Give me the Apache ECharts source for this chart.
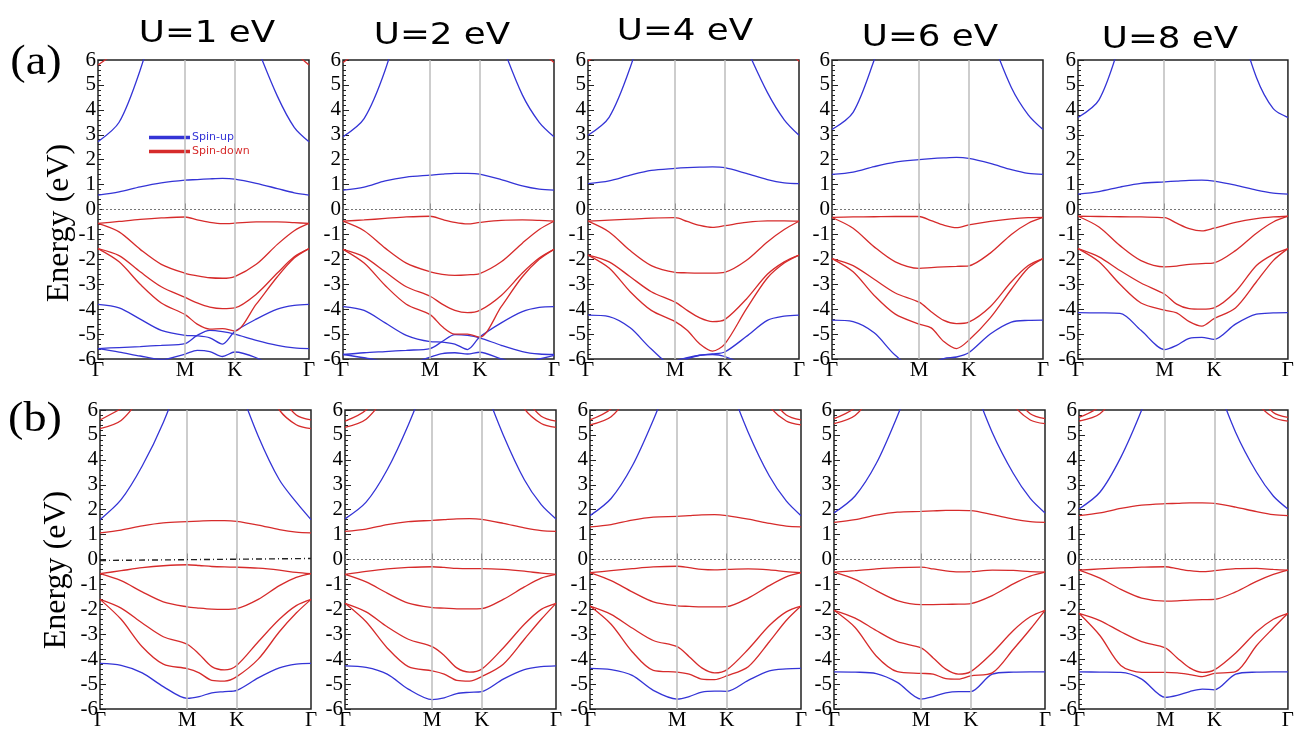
<!DOCTYPE html>
<html>
<head>
<meta charset="utf-8">
<script src="https://cdn.jsdelivr.net/npm/echarts@6/dist/echarts.min.js"></script>
<style>
  html, body { margin: 0; padding: 0; background: #fff; }
  #main { width: 1297px; height: 731px; }
</style>
</head>
<body>
<div id="main"></div>
<script>
// k-path positions (fraction of the Γ-M-K-Γ path) where band energies were read
const kpath = [0, 0.1, 0.2, 0.3, 0.413, 0.47, 0.53, 0.59, 0.648, 0.75, 0.85, 0.93, 1];
const kTicks = [0, 0.413, 0.648, 1];
const kNames = ['Γ', 'M', 'K', 'Γ'];
const uTitles = ['U=1 eV', 'U=2 eV', 'U=4 eV', 'U=6 eV', 'U=8 eV'];
const _ = null; // band leaves the -6..6 eV window

// ---- row (a) ----
const a1Up = [
  [2.72, 3.5, 5.6, 8.5, _, _, _, _, _, 6.6, 4.55, 3.3, 2.72],
  [0.58, 0.71, 0.91, 1.07, 1.18, 1.2, 1.23, 1.25, 1.22, 1.05, 0.84, 0.67, 0.58],
  [-3.81, -3.95, -4.4, -4.85, -5.05, -5.07, -5.15, -5.4, -4.9, -4.4, -4.0, -3.85, -3.81],
  [-5.58, -5.54, -5.5, -5.45, -5.38, -5.05, -4.85, -4.9, -5.0, -5.25, -5.45, -5.55, -5.58],
  [-5.58, -5.72, -5.88, -6.02, -5.8, -5.65, -5.7, -5.9, -5.72, -5.95, -6.4, _, _]
];
const a1Dn = [
  [5.8, 6.4, _, _, _, _, _, _, _, _, _, 6.3, 5.8],
  [-0.56, -0.48, -0.4, -0.34, -0.3, -0.42, -0.52, -0.57, -0.55, -0.5, -0.5, -0.53, -0.56],
  [-0.56, -0.9, -1.6, -2.2, -2.56, -2.66, -2.74, -2.76, -2.69, -2.2, -1.4, -0.85, -0.56],
  [-1.57, -1.85, -2.5, -3.1, -3.53, -3.75, -3.92, -3.98, -3.95, -3.4, -2.55, -1.9, -1.57],
  [-1.57, -2.1, -3.0, -3.75, -4.22, -4.6, -4.8, -4.78, -4.88, -3.8, -2.7, -1.95, -1.57]
];
const a2Up = [
  [2.92, 3.65, 5.6, 8.5, _, _, _, _, _, 6.7, 4.6, 3.5, 2.92],
  [0.78, 0.9, 1.15, 1.3, 1.38, 1.42, 1.45, 1.45, 1.42, 1.2, 0.95, 0.82, 0.78],
  [-3.9, -4.05, -4.55, -5.05, -5.3, -5.32, -5.4, -5.62, -5.12, -4.55, -4.1, -3.93, -3.9],
  [-5.82, -5.75, -5.7, -5.65, -5.58, -5.3, -5.02, -5.05, -5.15, -5.45, -5.7, -5.8, -5.82],
  [-5.82, -5.95, -6.1, -6.2, -5.92, -5.78, -5.75, -5.8, -5.73, -6.0, -6.2, -6.0, -5.85]
];
const a2Dn = [
  [5.9, 6.5, _, _, _, _, _, _, _, _, _, 6.4, 5.9],
  [-0.47, -0.42, -0.36, -0.3, -0.27, -0.4, -0.52, -0.58, -0.52, -0.44, -0.42, -0.44, -0.47],
  [-0.47, -0.85, -1.55, -2.15, -2.5, -2.6, -2.64, -2.62, -2.57, -2.1, -1.35, -0.8, -0.47],
  [-1.6, -1.9, -2.5, -3.1, -3.48, -3.8, -4.05, -4.14, -4.05, -3.45, -2.55, -1.95, -1.6],
  [-1.6, -2.15, -3.05, -3.8, -4.22, -4.7, -5.0, -5.0, -5.12, -3.9, -2.7, -2.0, -1.6]
];
const a3Up = [
  [2.98, 3.7, 5.7, 8.5, _, _, _, _, _, 6.5, 4.7, 3.6, 2.98],
  [1.04, 1.15, 1.38, 1.57, 1.65, 1.68, 1.7, 1.71, 1.68, 1.45, 1.2, 1.07, 1.04],
  [-4.24, -4.3, -4.75, -5.6, -6.3, -6.0, -5.85, -5.8, -5.72, -5.1, -4.45, -4.28, -4.24],
  [_, _, _, -7, -6.1, -5.95, -5.85, -5.82, -5.9, -6.3, -7, _, _]
];
const a3Dn = [
  [5.95, 6.6, _, _, _, _, _, _, _, _, _, 6.5, 5.95],
  [-0.47, -0.43, -0.39, -0.35, -0.33, -0.48, -0.64, -0.72, -0.65, -0.52, -0.46, -0.46, -0.47],
  [-0.47, -0.9, -1.65, -2.25, -2.52, -2.54, -2.55, -2.55, -2.52, -2.05, -1.3, -0.8, -0.47],
  [-1.83, -2.1, -2.7, -3.3, -3.72, -4.05, -4.35, -4.5, -4.42, -3.6, -2.6, -2.1, -1.83],
  [-1.83, -2.35, -3.3, -4.05, -4.5, -4.85, -5.4, -5.68, -5.4, -4.0, -2.75, -2.15, -1.83]
];
const a4Up = [
  [3.21, 3.9, 6.0, 8.5, _, _, _, _, _, 7.0, 4.9, 3.8, 3.21],
  [1.41, 1.5, 1.72, 1.9, 2.0, 2.04, 2.07, 2.09, 2.05, 1.85, 1.6, 1.45, 1.41],
  [-4.44, -4.5, -4.95, -5.85, -6.5, -6.2, -5.98, -5.92, -5.75, -5.0, -4.52, -4.45, -4.44]
];
const a4Dn = [
  [-0.32, -0.3, -0.29, -0.28, -0.28, -0.45, -0.63, -0.73, -0.62, -0.48, -0.38, -0.33, -0.32],
  [-0.32, -0.75, -1.5, -2.1, -2.36, -2.33, -2.3, -2.28, -2.26, -1.75, -1.0, -0.55, -0.32],
  [-1.97, -2.25, -2.8, -3.35, -3.72, -4.1, -4.45, -4.58, -4.52, -3.9, -2.9, -2.25, -1.97],
  [-1.97, -2.5, -3.45, -4.2, -4.6, -4.75, -5.3, -5.58, -5.25, -4.35, -3.2, -2.35, -1.97]
];
const a5Up = [
  [3.69, 4.4, 6.7, _, _, _, _, _, _, 8, 5.3, 4.05, 3.69],
  [0.62, 0.72, 0.9, 1.05, 1.11, 1.14, 1.17, 1.18, 1.14, 0.98, 0.78, 0.66, 0.62],
  [-4.14, -4.15, -4.17, -4.85, -5.62, -5.45, -5.17, -5.13, -5.21, -4.6, -4.2, -4.15, -4.14]
];
const a5Dn = [
  [-0.27, -0.28, -0.29, -0.3, -0.33, -0.55, -0.77, -0.86, -0.75, -0.52, -0.37, -0.3, -0.27],
  [-0.27, -0.7, -1.45, -2.05, -2.3, -2.27, -2.2, -2.17, -2.14, -1.65, -0.95, -0.5, -0.27],
  [-1.57, -1.9, -2.45, -2.95, -3.4, -3.8, -3.98, -4.0, -3.95, -3.3, -2.25, -1.8, -1.57],
  [-1.57, -2.1, -3.0, -3.75, -4.04, -4.15, -4.5, -4.68, -4.38, -3.95, -2.9, -2.05, -1.57]
];

// ---- row (b) ----
const b1Up = [
  [1.6, 2.4, 3.75, 5.5, 8.0, _, _, _, 7.2, 4.95, 3.2, 2.3, 1.6],
  [-4.17, -4.25, -4.55, -5.1, -5.57, -5.5, -5.35, -5.3, -5.25, -4.75, -4.35, -4.2, -4.17]
];
const b1Dn = [
  [5.25, 5.58, 6.6, _, _, _, _, _, _, 7.5, 6.0, 5.41, 5.25],
  [5.6, 6.05, _, _, _, _, _, _, _, _, 6.6, 5.8, 5.6],
  [1.07, 1.18, 1.35, 1.47, 1.52, 1.54, 1.56, 1.56, 1.53, 1.38, 1.2, 1.1, 1.07],
  [-0.57, -0.45, -0.33, -0.25, -0.21, -0.24, -0.28, -0.3, -0.31, -0.35, -0.43, -0.52, -0.57],
  [-0.57, -0.85, -1.3, -1.7, -1.9, -1.95, -1.99, -2.0, -1.97, -1.6, -1.05, -0.72, -0.57],
  [-1.6, -1.95, -2.55, -3.1, -3.4, -3.8, -4.3, -4.43, -4.25, -3.3, -2.4, -1.85, -1.6],
  [-1.6, -2.4, -3.5, -4.2, -4.38, -4.55, -4.85, -4.88, -4.7, -4.0, -2.9, -2.15, -1.6]
];
const b2Up = [
  [1.63, 2.3, 3.6, 5.4, 7.8, _, _, _, 7.2, 5.0, 3.2, 2.2, 1.63],
  [-4.27, -4.33, -4.6, -5.2, -5.62, -5.55, -5.38, -5.33, -5.3, -4.8, -4.42, -4.3, -4.27]
];
const b2Dn = [
  [5.3, 5.63, 6.65, _, _, _, _, _, _, 7.5, 6.05, 5.46, 5.3],
  [5.55, 6.0, 7.1, _, _, _, _, _, _, _, 6.5, 5.75, 5.55],
  [1.13, 1.22, 1.4, 1.52, 1.57, 1.6, 1.63, 1.64, 1.61, 1.45, 1.27, 1.16, 1.13],
  [-0.6, -0.48, -0.38, -0.32, -0.29, -0.32, -0.36, -0.37, -0.37, -0.4, -0.47, -0.55, -0.6],
  [-0.6, -0.9, -1.35, -1.75, -1.93, -1.95, -1.98, -1.98, -1.97, -1.6, -1.1, -0.75, -0.6],
  [-1.76, -2.1, -2.7, -3.2, -3.5, -3.85, -4.35, -4.52, -4.4, -3.55, -2.6, -2.0, -1.76],
  [-1.76, -2.5, -3.55, -4.3, -4.47, -4.6, -4.85, -4.88, -4.7, -4.2, -3.2, -2.4, -1.76]
];
const b3Up = [
  [1.76, 2.45, 3.75, 5.6, 8, _, _, _, 7.3, 5.1, 3.35, 2.35, 1.76],
  [-4.37, -4.42, -4.65, -5.25, -5.6, -5.5, -5.32, -5.28, -5.29, -4.85, -4.47, -4.39, -4.37]
];
const b3Dn = [
  [5.4, 5.73, 6.75, _, _, _, _, _, _, 7.5, 6.15, 5.56, 5.4],
  [5.6, 6.05, 7.2, _, _, _, _, _, _, _, 6.55, 5.8, 5.6],
  [1.31, 1.4, 1.58, 1.7, 1.73, 1.76, 1.79, 1.8, 1.76, 1.62, 1.45, 1.34, 1.31],
  [-0.53, -0.45, -0.37, -0.3, -0.27, -0.33, -0.4, -0.42, -0.4, -0.38, -0.42, -0.49, -0.53],
  [-0.53, -0.85, -1.3, -1.7, -1.86, -1.88, -1.9, -1.9, -1.89, -1.55, -1.05, -0.7, -0.53],
  [-1.87, -2.2, -2.75, -3.25, -3.5, -3.9, -4.35, -4.55, -4.43, -3.6, -2.65, -2.1, -1.87],
  [-1.87, -2.6, -3.7, -4.45, -4.52, -4.6, -4.8, -4.82, -4.67, -4.3, -3.3, -2.45, -1.87]
];
const b4Up = [
  [1.87, 2.55, 3.85, 5.75, 8.2, _, _, _, 7.3, 5.1, 3.45, 2.45, 1.87],
  [-4.51, -4.52, -4.58, -4.93, -5.6, -5.5, -5.35, -5.3, -5.3, -4.6, -4.52, -4.51, -4.51]
];
const b4Dn = [
  [5.45, 5.78, 6.8, _, _, _, _, _, _, 7.5, 6.2, 5.6, 5.45],
  [5.65, 6.1, 7.25, _, _, _, _, _, _, _, 6.6, 5.85, 5.65],
  [1.49, 1.6, 1.78, 1.9, 1.93, 1.95, 1.97, 1.97, 1.96, 1.8, 1.62, 1.52, 1.49],
  [-0.51, -0.45, -0.38, -0.33, -0.31, -0.38, -0.46, -0.5, -0.49, -0.43, -0.44, -0.49, -0.51],
  [-0.51, -0.8, -1.25, -1.65, -1.81, -1.81, -1.8, -1.79, -1.77, -1.45, -0.98, -0.67, -0.51],
  [-2.04, -2.35, -2.85, -3.3, -3.55, -3.95, -4.4, -4.6, -4.5, -3.75, -2.85, -2.3, -2.04],
  [-2.04, -2.73, -3.87, -4.5, -4.57, -4.6, -4.78, -4.8, -4.67, -4.55, -3.6, -2.8, -2.04]
];
const b5Up = [
  [2.03, 2.7, 4.1, 6.0, 8.5, _, _, _, 7.3, 5.1, 3.5, 2.55, 2.03],
  [-4.51, -4.52, -4.53, -4.8, -5.53, -5.45, -5.3, -5.2, -5.23, -4.6, -4.52, -4.51, -4.51]
];
const b5Dn = [
  [5.55, 5.85, 6.85, _, _, _, _, _, _, 7.5, 6.3, 5.7, 5.55],
  [5.7, 6.15, 7.3, _, _, _, _, _, _, _, 6.7, 5.9, 5.7],
  [1.76, 1.87, 2.05, 2.18, 2.24, 2.25, 2.27, 2.27, 2.25, 2.1, 1.92, 1.8, 1.76],
  [-0.43, -0.38, -0.34, -0.31, -0.29, -0.37, -0.45, -0.49, -0.45, -0.37, -0.36, -0.4, -0.43],
  [-0.43, -0.75, -1.2, -1.55, -1.67, -1.66, -1.63, -1.61, -1.6, -1.3, -0.88, -0.6, -0.43],
  [-2.16, -2.45, -2.9, -3.3, -3.55, -3.95, -4.35, -4.53, -4.43, -3.75, -2.9, -2.4, -2.16],
  [-2.16, -3.05, -4.25, -4.53, -4.53, -4.55, -4.62, -4.7, -4.57, -4.5, -3.45, -2.75, -2.16]
];

const panels = [
  [a1Up, a1Dn], [a2Up, a2Dn], [a3Up, a3Dn], [a4Up, a4Dn], [a5Up, a5Dn],
  [b1Up, b1Dn], [b2Up, b2Dn], [b3Up, b3Dn], [b4Up, b4Dn], [b5Up, b5Dn]
];

const BLUE = '#3434d6';
const RED = '#d62b2b';
const SERIF = '"Liberation Serif", "Times New Roman", serif';
const SANS = '"DejaVu Sans", sans-serif';

const colLeft = [[98, 343, 588, 832, 1078], [100, 345, 590, 834, 1079]];
const rowTop = [60, 410];
const rowH = [299, 300];

let myChart = echarts.init(document.getElementById('main'), null, { renderer: 'canvas' });

let grids = [], xAxes = [], yAxes = [], series = [];

panels.forEach((p, i) => {
  let r = Math.floor(i / 5), c = i % 5;
  grids.push({
    left: colLeft[r][c], top: rowTop[r], width: 211, height: rowH[r],
    show: true, borderColor: '#222', borderWidth: 1.5, backgroundColor: 'transparent'
  });
  xAxes.push({
    type: 'value', gridIndex: i, min: 0, max: 1,
    axisLine: { show: false },
    splitLine: { show: false },
    axisTick: { show: true, inside: true, length: 6, customValues: [0.413, 0.648], lineStyle: { color: '#222' } },
    axisLabel: {
      customValues: kTicks,
      formatter: v => kNames[kTicks.indexOf(v)],
      fontFamily: SERIF, fontSize: 21, color: '#000', margin: 1
    }
  });
  yAxes.push({
    type: 'value', gridIndex: i, min: -6, max: 6, interval: 1,
    axisLine: { show: false },
    splitLine: { show: false },
    axisTick: { show: true, inside: true, length: 6, lineStyle: { color: '#222' } },
    minorTick: { show: true, splitNumber: 5, length: 3, lineStyle: { color: '#222' } },
    axisLabel: { fontFamily: SERIF, fontSize: 21, color: '#000', margin: 2 }
  });

  // Fermi level and high-symmetry lines
  let fermi = (i === 5)
    ? [{ coord: [0, -0.04], lineStyle: { color: '#222', width: 1.4, type: [6, 3, 1, 3] } }, { coord: [1, 0.04] }]
    : { yAxis: 0, lineStyle: { color: '#777', width: 1, type: [2, 2] } };
  series.push({
    type: 'line', name: 'ref', xAxisIndex: i, yAxisIndex: i, data: [],
    silent: true,
    markLine: {
      silent: true, symbol: ['none', 'none'], label: { show: false }, animation: false,
      data: [
        { xAxis: 0.413, lineStyle: { color: '#bdbdbd', width: 1.5, type: 'solid' } },
        { xAxis: 0.648, lineStyle: { color: '#bdbdbd', width: 1.5, type: 'solid' } },
        fermi
      ]
    }
  });

  [[p[0], 'Spin-up', BLUE], [p[1], 'Spin-down', RED]].forEach(([bands, name, color]) => {
    bands.forEach(b => {
      series.push({
        type: 'line', name: name, xAxisIndex: i, yAxisIndex: i,
        data: kpath.map((k, j) => [k, b[j]]),
        smooth: 0.3, connectNulls: false,
        showSymbol: false, clip: true, silent: true,
        lineStyle: { color: color, width: 1.3 },
        itemStyle: { color: color },
        emphasis: { disabled: true }
      });
    });
  });
});

let graphics = [];
const titleX = [207, 442, 685, 930, 1170];
const titleY = [34, 36, 32, 38, 40];
uTitles.forEach((t, c) => {
  graphics.push({
    type: 'text', x: titleX[c], y: titleY[c], scaleX: 1.15,
    style: { text: t, font: '31px ' + SANS, fill: '#000', align: 'center', verticalAlign: 'middle', textAlign: 'center', textVerticalAlign: 'middle' }
  });
});
[['(a)', 36, 63], ['(b)', 35, 420]].forEach(([t, x, y]) => {
  graphics.push({
    type: 'text', x: x, y: y, scaleX: 1.1,
    style: { text: t, font: '42px ' + SERIF, fill: '#000', align: 'center', verticalAlign: 'middle', textAlign: 'center', textVerticalAlign: 'middle' }
  });
});
[[60, 223], [57, 570]].forEach(([x, y]) => {
  graphics.push({
    type: 'text', x: x, y: y, rotation: Math.PI / 2,
    style: { text: 'Energy (eV)', font: '32px ' + SERIF, fill: '#000', align: 'center', verticalAlign: 'middle', textAlign: 'center', textVerticalAlign: 'middle' }
  });
});

let option = {
  animation: false,
  backgroundColor: '#fff',
  grid: grids,
  xAxis: xAxes,
  yAxis: yAxes,
  legend: {
    orient: 'vertical', left: 144, top: 127,
    itemWidth: 41, itemHeight: 3.5, itemGap: 3, icon: 'rect',
    selectedMode: false,
    textStyle: { fontFamily: SANS, fontSize: 11, padding: [0, 0, 0, -3] },
    data: [
      { name: 'Spin-up', textStyle: { color: BLUE } },
      { name: 'Spin-down', textStyle: { color: RED } }
    ]
  },
  graphic: graphics,
  series: series
};
myChart.setOption(option);
</script>
</body>
</html>
